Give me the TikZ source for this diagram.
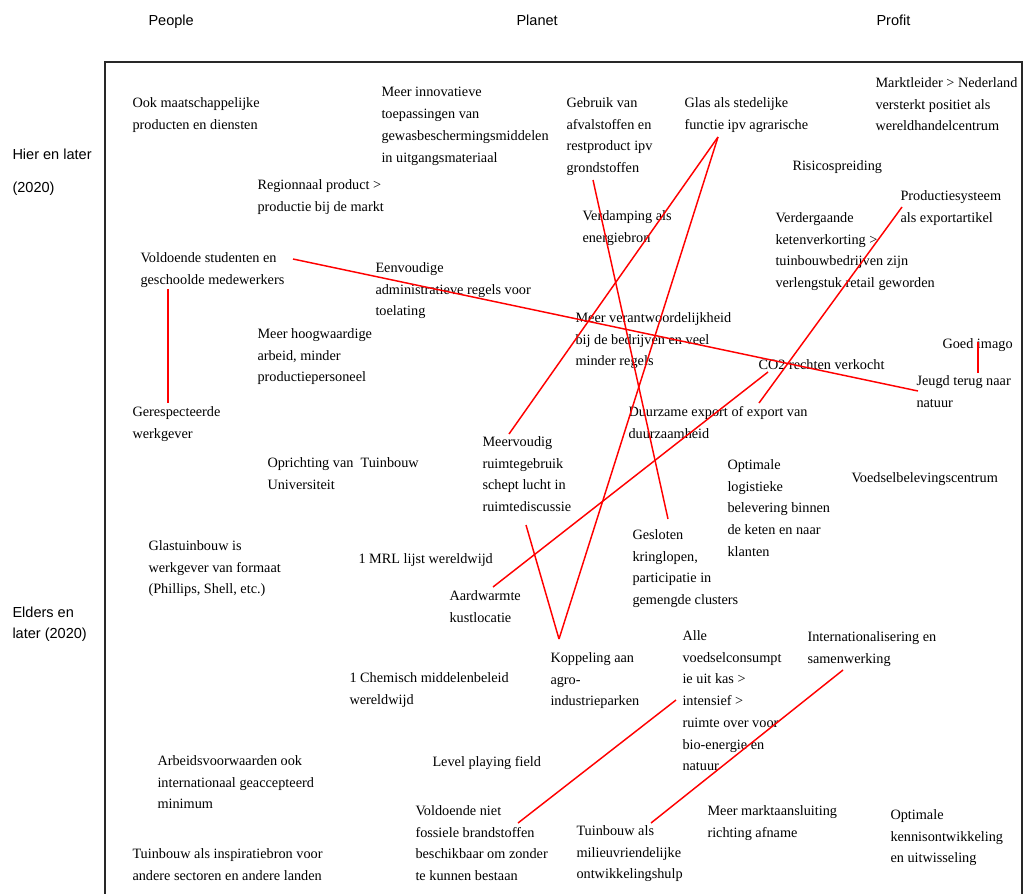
\documentclass[tikz,border=0pt]{standalone}
\usepackage{fontspec}
\setmainfont{Liberation Serif}
\newfontfamily\headfont{Liberation Sans}

\tikzset{every picture/.style={line width=0.75pt}}
\tikzset{
  txt/.style={anchor=north west, inner sep=0pt, align=left,
    font=\fontsize{10.7}{16.3}\selectfont, execute at begin node=\strut},
  head/.style={anchor=north west, inner sep=0pt, align=left,
    font=\headfont\fontsize{10.9}{16}\selectfont, execute at begin node=\strut},
  link/.style={draw=red, line width=1.1pt}
}

\begin{document}
\begin{tikzpicture}[x=0.75pt,y=0.75pt,yscale=-1,xscale=1]
\useasboundingbox (0,0) rectangle (1024,893);

%Shape: Frame
\draw [line width=1.5pt, color={rgb, 255:red, 40; green, 40; blue, 40}] (105,62) rectangle (1022,905);

% Column and row headings
\node (people) [head] at (148,10) {People};
\node (planet) [head] at (516,10) {Planet};
\node (profit) [head] at (876,10) {Profit};
\node (hier) [head] at (12,144) {Hier en later};
\node (hierjaar) [head] at (12,177) {(2020)};
\node (elders) [head] at (12,606) {Elders en\\later (2020)};

% Text Node
\node (ook) [txt] at (132,97) {Ook maatschappelijke\\producten en diensten};
\node (innov) [txt] at (381,87) {Meer innovatieve\\toepassingen van\\gewasbeschermingsmiddelen\\in uitgangsmateriaal};
\node (gebruik) [txt] at (566,97) {Gebruik van\\afvalstoffen en\\restproduct ipv\\grondstoffen};
\node (glas) [txt] at (684,97) {Glas als stedelijke\\functie ipv agrarische};
\node (markt) [txt] at (875,77) {Marktleider > Nederland\\versterkt positiet als\\wereldhandelcentrum};
\node (risico) [txt] at (792,155) {Risicospreiding};
\node (region) [txt] at (257,179) {Regionnaal product >\\productie bij de markt};
\node (prodsys) [txt] at (900,190) {Productiesysteem\\als exportartikel};
\node (verdamp) [txt] at (582,210) {Verdamping als\\energiebron};
\node (verderg) [txt] at (775,212) {Verdergaande\\ketenverkorting >\\tuinbouwbedrijven zijn\\verlengstuk retail geworden};
\node (studenten) [txt] at (140,252) {Voldoende studenten en\\geschoolde medewerkers};
\node (eenvoud) [txt] at (375,262) {Eenvoudige\\administratieve regels voor\\toelating};
\node (verantw) [txt] at (575,312) {Meer verantwoordelijkheid\\bij de bedrijven en veel\\minder regels};
\node (hoogw) [txt] at (257,328) {Meer hoogwaardige\\arbeid, minder\\productiepersoneel};
\node (imago) [txt] at (942,333) {Goed imago};
\node (cotwee) [txt] at (758,354) {CO2 rechten verkocht};
\node (jeugd) [txt] at (916,375) {Jeugd terug naar\\natuur};
\node (gerespect) [txt] at (132,406) {Gerespecteerde\\werkgever};
\node (duurz) [txt] at (628,406) {Duurzame export of export van\\duurzaamheid};
\node (meervoud) [txt] at (482,436) {Meervoudig\\ruimtegebruik\\schept lucht in\\ruimtediscussie};
\node (oprichting) [txt] at (267,457) {Oprichting van~ Tuinbouw\\Universiteit};
\node (logist) [txt] at (727,459) {Optimale\\logistieke\\belevering binnen\\de keten en naar\\klanten};
\node (voedselbel) [txt] at (851,467) {Voedselbelevingscentrum};
\node (glastuin) [txt] at (148,540) {Glastuinbouw is\\werkgever van formaat\\(Phillips, Shell, etc.)};
\node (mrl) [txt] at (358,548) {1 MRL lijst wereldwijd};
\node (gesloten) [txt] at (632,529) {Gesloten\\kringlopen,\\participatie in\\gemengde clusters};
\node (aardw) [txt] at (449,590) {Aardwarmte\\kustlocatie};
\node (alle) [txt] at (682,630) {Alle\\voedselconsumpt\\ie uit kas >\\intensief >\\ruimte over voor\\bio-energie en\\natuur};
\node (internat) [txt] at (807,631) {Internationalisering en\\samenwerking};
\node (koppel) [txt] at (550,652) {Koppeling aan\\agro-\\industrieparken};
\node (chemisch) [txt] at (349,672) {1 Chemisch middelenbeleid\\wereldwijd};
\node (level) [txt] at (432,751) {Level playing field};
\node (arbeid) [txt] at (157,755) {Arbeidsvoorwaarden ook\\internationaal geaccepteerd\\minimum};
\node (fossiel) [txt] at (415,805) {Voldoende niet\\fossiele brandstoffen\\beschikbaar om zonder\\te kunnen bestaan};
\node (marktaans) [txt] at (707,805) {Meer marktaansluiting\\richting afname};
\node (kennis) [txt] at (890,809) {Optimale\\kennisontwikkeling\\en uitwisseling};
\node (milieu) [txt] at (576,825) {Tuinbouw als\\milieuvriendelijke\\ontwikkelingshulp};
\node (inspiratie) [txt] at (132,848) {Tuinbouw als inspiratiebron voor\\andere sectoren en andere landen};

% Line ends
\coordinate (studenten-e) at (293,259);
\coordinate (studenten-s) at (168,289);
\coordinate (jeugd-w) at (918,391);
\coordinate (gerespect-n) at (168,403);
\coordinate (imago-s) at (978,342);
\coordinate (jeugd-n) at (978,373);
\coordinate (glas-s) at (718,137);
\coordinate (meervoud-n) at (509,434);
\coordinate (meervoud-s) at (526,525);
\coordinate (koppel-n) at (559,639);
\coordinate (gebruik-s) at (593,180);
\coordinate (gesloten-n) at (668,519);
\coordinate (prodsys-w) at (902,207);
\coordinate (duurz-n) at (759,403);
\coordinate (cotwee-s) at (768,372);
\coordinate (aardw-n) at (493,587);
\coordinate (alle-w) at (676,700);
\coordinate (fossiel-e) at (518,823);
\coordinate (internat-s) at (843,670);
\coordinate (milieu-n) at (651,823);

%Straight Lines
\draw [link] (studenten-e) -- (jeugd-w);
\draw [link] (studenten-s) -- (gerespect-n);
\draw [link] (imago-s) -- (jeugd-n);
\draw [link] (glas-s) -- (meervoud-n);
\draw [link] (glas-s) -- (koppel-n);
\draw [link] (meervoud-s) -- (koppel-n);
\draw [link] (gebruik-s) -- (gesloten-n);
\draw [link] (prodsys-w) -- (duurz-n);
\draw [link] (cotwee-s) -- (aardw-n);
\draw [link] (alle-w) -- (fossiel-e);
\draw [link] (internat-s) -- (milieu-n);

\end{tikzpicture}
\end{document}
